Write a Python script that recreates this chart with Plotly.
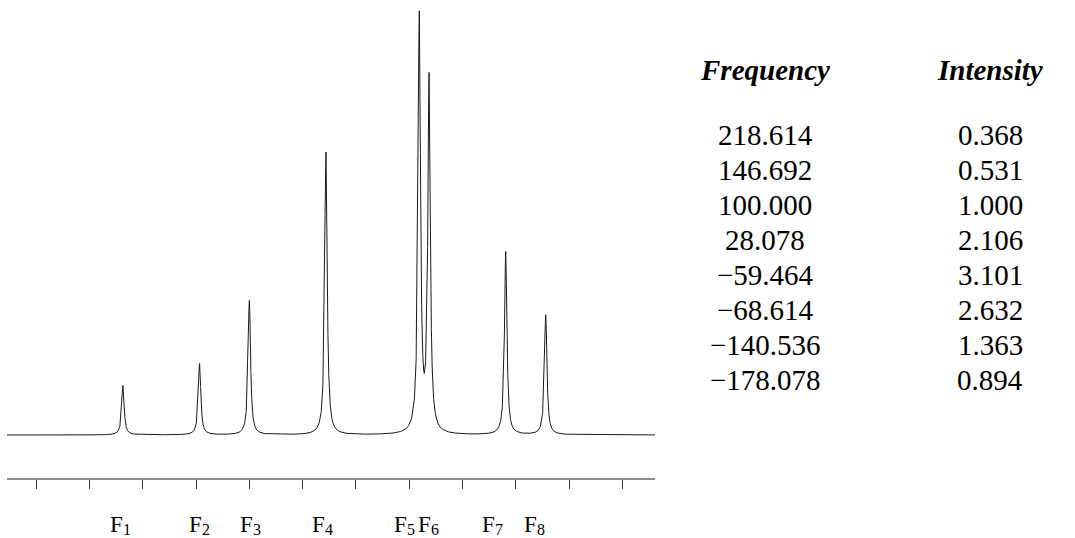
import numpy as np
import plotly.graph_objects as go

# ---- data ----
frequencies = [218.614, 146.692, 100.000, 28.078, -59.464, -68.614, -140.536, -178.078]
intensities = [0.368, 0.531, 1.000, 2.106, 3.101, 2.632, 1.363, 0.894]
freq_text = ["218.614", "146.692", "100.000", "28.078", "\u221259.464", "\u221268.614", "\u2212140.536", "\u2212178.078"]
int_text = ["0.368", "0.531", "1.000", "2.106", "3.101", "2.632", "1.363", "0.894"]
peak_letter = "F"
peak_index = ["1", "2", "3", "4", "5", "6", "7", "8"]
tick_values = [300, 250, 200, 150, 100, 50, 0, -50, -100, -150, -200, -250]
half_width = 1.35  # Lorentzian half width at half maximum (frequency units)

X_RANGE = [327.4, -280.6]
Y_RANGE = [-0.320, 3.239]

# spectrum: sum of Lorentzian lines at the listed frequencies / intensities
x = np.linspace(X_RANGE[1], X_RANGE[0], 30001)
y = np.zeros_like(x)
for f, inten in zip(frequencies, intensities):
    y += inten / (1.0 + ((x - f) / half_width) ** 2)

W, H = 1075, 538
ML, MR, MT, MB = 7, 420, 0, 60
PW, PH = W - ML - MR, H - MT - MB

def px(p):
    return (p - ML) / PW

def py(p):
    return (H - MB - p) / PH

fig = go.Figure()
fig.add_trace(go.Scatter(x=x, y=y, mode="lines",
                         line=dict(color="#1a1a1a", width=1),
                         hoverinfo="skip", showlegend=False))

serif = "Liberation Serif, Times New Roman, serif"
ann = []

# peak labels under the ruler: "F" (right edge offset from the peak) + subscript digit
f_right_offset = [1, 3.5, 5, 0, -11, 2.5, -9.5, -7.5]
for f, idx, off in zip(frequencies, peak_index, f_right_offset):
    ann.append(dict(x=f, y=py(524), xref="x", yref="paper", text=peak_letter,
                    showarrow=False, xanchor="right", yanchor="middle", xshift=off,
                    borderpad=0,
                    font=dict(family=serif, size=23, color="black")))
    ann.append(dict(x=f, y=py(529.5), xref="x", yref="paper", text=idx,
                    showarrow=False, xanchor="left", yanchor="middle", xshift=off - 2,
                    borderpad=0,
                    font=dict(family=serif, size=16, color="black")))

# table
FREQ_CX = 765
INT_CX = 990
ROW0, ROW_STEP = 135, 35
ann.append(dict(x=px(FREQ_CX), y=py(70), xref="paper", yref="paper",
                text="<b><i>Frequency</i></b>", showarrow=False,
                xanchor="center", yanchor="middle",
                font=dict(family=serif, size=29, color="black")))
ann.append(dict(x=px(INT_CX), y=py(70), xref="paper", yref="paper",
                text="<b><i>Intensity</i></b>", showarrow=False,
                xanchor="center", yanchor="middle",
                font=dict(family=serif, size=29, color="black")))
for i, (ft, it) in enumerate(zip(freq_text, int_text)):
    yy = py(ROW0 + i * ROW_STEP)
    ann.append(dict(x=px(FREQ_CX), y=yy, xref="paper", yref="paper", text=ft,
                    showarrow=False, xanchor="center", yanchor="middle",
                    font=dict(family=serif, size=29, color="black")))
    ann.append(dict(x=px(INT_CX), y=yy, xref="paper", yref="paper", text=it,
                    showarrow=False, xanchor="center", yanchor="middle",
                    font=dict(family=serif, size=29, color="black")))

fig.update_layout(
    width=W, height=H,
    margin=dict(l=ML, r=MR, t=MT, b=MB, pad=0),
    paper_bgcolor="white", plot_bgcolor="white",
    showlegend=False,
    xaxis=dict(range=X_RANGE, showline=True, linecolor="#8c8c8c", linewidth=1.5,
               ticks="outside", ticklen=9, tickwidth=1, tickcolor="#333333",
               tickvals=tick_values, showticklabels=False,
               showgrid=False, zeroline=False, fixedrange=True),
    yaxis=dict(range=Y_RANGE, visible=False, showgrid=False, zeroline=False,
               fixedrange=True),
    annotations=ann,
)

fig.write_html(
    "out.html",
    config={"displayModeBar": False},
    post_script="document.body.style.margin='0';document.body.style.padding='0';"
                "document.body.style.overflow='hidden';",
)
